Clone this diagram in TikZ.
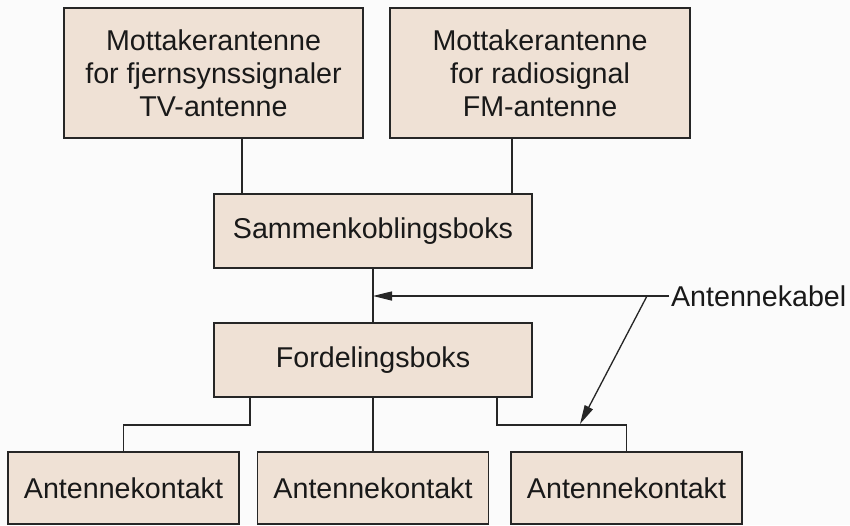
\documentclass[tikz,border=0pt]{standalone}
\usepackage{fontspec}
\setmainfont{Liberation Sans}
\usepackage{xcolor}
\definecolor{boxc}{HTML}{EFE1D5}
\definecolor{linec}{HTML}{262626}
\definecolor{bgc}{HTML}{FBFBFB}
\usetikzlibrary{arrows.meta,positioning,calc}
\tikzset{
  >={Triangle[length=3.8mm,width=1.8mm]},
  box/.style={draw=linec,line width=1.1pt,fill=boxc,inner sep=0pt,align=center,text=black!90,font=\fontsize{16.3}{18.8}\selectfont,minimum height=14.8mm,minimum width=63.6mm},
  tbox/.style={box,minimum height=26mm,minimum width=60mm},
  kbox/.style={box,minimum height=14.4mm,minimum width=46.2mm},
  wire/.style={draw=linec,line width=0.7pt},
  ptr/.style={->,draw=linec,line width=0.75pt},
  note/.style={font=\fontsize{16.3}{18.8}\selectfont,text=black!90,inner sep=1pt,anchor=west},
}

\begin{document}
\begin{tikzpicture}
  \useasboundingbox[fill=bgc] (0,0) rectangle (17,-10.5);
  \node[tbox,minimum width=59.8mm] (tv) at (4.27,-1.46) {Mottakerantenne\\for fjernsynssignaler\\TV-antenne};
  \node[tbox] (fm) at (10.8,-1.46) {Mottakerantenne\\for radiosignal\\FM-antenne};
  \node[box] (sam) at (7.46,-4.62) {Sammenkoblingsboks};
  \node[box] (ford) at (7.46,-7.2) {Fordelingsboks};
  \foreach \x/\n in {2.47/1,7.46/2,12.53/3} \node[kbox] (k\n) at (\x,-9.76) {Antennekontakt};
  \node[note] (kabel) at (13.38,-5.92) {Antennekabel};
  \coordinate (split) at (12.94,-5.92);
  \coordinate (tap) at (11.6,-8.48);
  \draw[wire] ([xshift=5.7mm]tv.south) -- ([xshift=5.7mm]tv.south |- sam.north);
  \draw[wire] ([xshift=-5.6mm]fm.south) -- ([xshift=-5.6mm]fm.south |- sam.north);
  \draw[wire] (sam) -- (ford);
  \draw[wire] (ford) -- (k2);
  \draw[wire] ([xshift=-24.6mm]ford.south) -- ++(0,-5.4mm) -| (k1.north);
  \draw[wire] ([xshift=24.8mm]ford.south) -- ++(0,-5.4mm) -| (k3.north);
  \draw[ptr] (kabel.west) -- (kabel.west -| sam.south);
  \draw[ptr] (split) -- (tap);
\end{tikzpicture}
\end{document}
